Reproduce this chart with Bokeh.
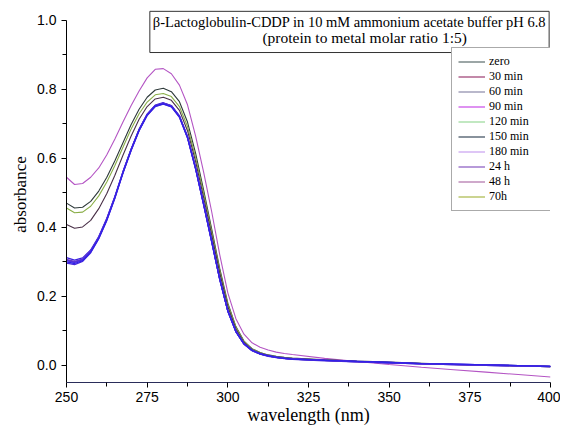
from bokeh.plotting import figure
from bokeh.models import Label, Legend, LegendItem, FixedTicker, NumeralTickFormatter
from bokeh.embed import file_html
from bokeh.resources import INLINE

wavelength = [250, 252.5, 255, 257.5, 260, 262.5, 265, 267.5, 270, 272.5, 275, 277.5, 280,
              282.5, 285, 287.5, 290, 292.5, 295, 297.5, 300, 302.5, 305, 307.5, 310, 312.5,
              315, 317.5, 320, 330, 340, 350, 360, 370, 380, 390, 400]

zero = [0.470, 0.456, 0.458, 0.475, 0.505, 0.545, 0.593, 0.645, 0.697, 0.742, 0.777, 0.798, 0.803,
        0.793, 0.764, 0.705, 0.615, 0.508, 0.395, 0.280, 0.180, 0.112, 0.070, 0.048, 0.037, 0.030,
        0.026, 0.023, 0.021, 0.016, 0.012, 0.009, 0.006, 0.003, 0.001, -0.001, -0.003]
min30 = [0.408, 0.397, 0.401, 0.420, 0.454, 0.498, 0.551, 0.609, 0.664, 0.713, 0.750, 0.772, 0.777,
         0.768, 0.739, 0.680, 0.591, 0.487, 0.378, 0.267, 0.170, 0.105, 0.066, 0.045, 0.035, 0.028,
         0.024, 0.021, 0.019, 0.015, 0.011, 0.008, 0.005, 0.002, 0.000, -0.002, -0.004]
min60 = [0.303, 0.298, 0.306, 0.330, 0.370, 0.423, 0.487, 0.560, 0.625, 0.683, 0.727, 0.753, 0.760,
         0.752, 0.722, 0.662, 0.572, 0.468, 0.360, 0.250, 0.158, 0.098, 0.062, 0.043, 0.033, 0.027,
         0.023, 0.020, 0.018, 0.014, 0.011, 0.008, 0.005, 0.003, 0.001, -0.001, -0.003]
min90 = [0.545, 0.524, 0.527, 0.545, 0.572, 0.610, 0.656, 0.705, 0.752, 0.795, 0.833, 0.858, 0.860,
         0.845, 0.812, 0.755, 0.665, 0.560, 0.445, 0.320, 0.210, 0.135, 0.090, 0.065, 0.052, 0.044,
         0.038, 0.034, 0.031, 0.020, 0.011, 0.002, -0.006, -0.013, -0.020, -0.027, -0.034]
min120 = [0.312, 0.305, 0.311, 0.334, 0.373, 0.426, 0.489, 0.561, 0.626, 0.684, 0.728, 0.754, 0.761,
          0.753, 0.723, 0.663, 0.573, 0.469, 0.361, 0.251, 0.159, 0.099, 0.063, 0.044, 0.034, 0.028,
          0.024, 0.021, 0.019, 0.015, 0.011, 0.008, 0.005, 0.003, 0.001, -0.001, -0.003]
min150 = [0.296, 0.292, 0.301, 0.326, 0.367, 0.420, 0.484, 0.557, 0.622, 0.680, 0.724, 0.750, 0.757,
          0.749, 0.719, 0.659, 0.569, 0.465, 0.357, 0.248, 0.156, 0.097, 0.061, 0.042, 0.032, 0.026,
          0.022, 0.019, 0.017, 0.013, 0.010, 0.007, 0.004, 0.002, 0.000, -0.002, -0.004]
min180 = [0.307, 0.301, 0.308, 0.332, 0.371, 0.424, 0.488, 0.559, 0.624, 0.682, 0.726, 0.752, 0.759,
          0.751, 0.721, 0.661, 0.571, 0.467, 0.359, 0.249, 0.157, 0.098, 0.062, 0.043, 0.033, 0.027,
          0.023, 0.020, 0.018, 0.014, 0.010, 0.007, 0.004, 0.002, 0.000, -0.002, -0.004]
h24 = [0.300, 0.295, 0.303, 0.328, 0.368, 0.421, 0.486, 0.558, 0.623, 0.681, 0.725, 0.751, 0.758,
       0.750, 0.720, 0.660, 0.570, 0.466, 0.358, 0.249, 0.157, 0.097, 0.062, 0.043, 0.033, 0.027,
       0.023, 0.020, 0.018, 0.014, 0.011, 0.008, 0.005, 0.003, 0.001, -0.001, -0.003]
h48 = [0.305, 0.299, 0.307, 0.331, 0.371, 0.424, 0.488, 0.560, 0.625, 0.683, 0.727, 0.753, 0.760,
       0.752, 0.722, 0.662, 0.572, 0.468, 0.360, 0.250, 0.158, 0.098, 0.062, 0.043, 0.033, 0.027,
       0.023, 0.020, 0.018, 0.014, 0.010, 0.007, 0.004, 0.002, 0.000, -0.002, -0.004]
h70 = [0.456, 0.442, 0.444, 0.461, 0.491, 0.531, 0.579, 0.632, 0.684, 0.729, 0.763, 0.784, 0.788,
       0.779, 0.750, 0.692, 0.603, 0.498, 0.387, 0.274, 0.176, 0.110, 0.069, 0.047, 0.036, 0.029,
       0.025, 0.022, 0.020, 0.015, 0.011, 0.008, 0.005, 0.002, 0.000, -0.002, -0.004]

labels = ["zero", "30 min", "60 min", "90 min", "120 min", "150 min", "180 min", "24 h", "48 h", "70h"]
series = [zero, min30, min60, min90, min120, min150, min180, h24, h48, h70]
curve_colors = ["#2e3a3a", "#4a3048", "#5a3ad0", "#b455c4", "#3a20e0", "#4a2ad8",
                "#6a40c8", "#3020e8", "#5530d8", "#8aae48"]
curve_widths = [1.1, 1.1, 1.3, 1.1, 1.3, 1.3, 1.3, 1.3, 1.3, 1.1]
legend_colors = ["#5a6a6a", "#9a3a70", "#8a88a8", "#c848e8", "#98d898", "#3a4a5a",
                 "#c8a0f0", "#8858c0", "#b070a8", "#a8b848"]

title_line1 = "β-Lactoglobulin-CDDP in 10 mM ammonium acetate buffer pH 6.8"
title_line2 = "(protein to metal molar ratio 1:5)"

x_ticks = [250, 275, 300, 325, 350, 375, 400]
x_minor = [262.5, 287.5, 312.5, 337.5, 362.5, 387.5]
y_ticks = [0.0, 0.2, 0.4, 0.6, 0.8, 1.0]
y_minor = [0.1, 0.3, 0.5, 0.7, 0.9]

p = figure(width=560, height=430, x_range=(250, 400), y_range=(-0.05, 1.04),
           output_backend="svg", toolbar_location=None,
           min_border_left=66, min_border_right=10, min_border_top=6, min_border_bottom=48)
p.outline_line_color = None
p.xgrid.visible = False
p.ygrid.visible = False
p.background_fill_color = "white"

serif = "Liberation Serif"
sans = "Liberation Sans"

order = [3, 0, 9, 1, 2, 4, 5, 6, 8, 7]
for i in order:
    p.line(wavelength, series[i], line_color=curve_colors[i], line_width=curve_widths[i])

nan = float("nan")
items = []
for lab, col in zip(labels, legend_colors):
    r = p.line(x=[nan], y=[nan], line_color=col, line_width=1.2)
    items.append(LegendItem(label=lab, renderers=[r]))
legend = Legend(items=items, location=(385, 171), margin=0, padding=6,
                spacing=0, label_height=15, glyph_height=15, glyph_width=27,
                label_standoff=4, label_width=56, label_text_font=serif,
                label_text_font_size="12px", label_text_color="black",
                label_text_line_height=1.0,
                border_line_color="#555555", border_line_width=1,
                background_fill_alpha=1.0)
p.add_layout(legend)

p.xaxis.ticker = FixedTicker(ticks=x_ticks, minor_ticks=x_minor)
p.yaxis.ticker = FixedTicker(ticks=y_ticks, minor_ticks=y_minor)
p.yaxis.formatter = NumeralTickFormatter(format="0.0")
p.yaxis.bounds = (-0.05, 1.0)
for ax in (p.xaxis, p.yaxis):
    ax.major_tick_out = 5
    ax.major_tick_in = 0
    ax.minor_tick_out = 4
    ax.minor_tick_in = 0
    ax.axis_line_color = "black"
    ax.major_tick_line_color = "black"
    ax.minor_tick_line_color = "black"
    ax.major_label_text_font = sans
    ax.major_label_text_font_size = "14px"
    ax.major_label_text_color = "black"
    ax.axis_label_text_font = serif
    ax.axis_label_text_font_style = "normal"
    ax.axis_label_text_color = "black"
p.xaxis.axis_line_color = "#2a2d5a"
p.xaxis.axis_label = "wavelength (nm)"
p.yaxis.axis_label = "absorbance"
p.xaxis.axis_label_text_font_size = "18px"
p.yaxis.axis_label_text_font_size = "17px"
p.xaxis.major_label_standoff = 4
p.xaxis.axis_label_standoff = 0
p.yaxis.major_label_standoff = 5
p.yaxis.axis_label_standoff = 4

# boxed title: box sized by line 1 plus an empty second line, line 2 drawn separately
title_box = Label(x=337.7, y=1.026, text=title_line1 + "\n ",
                  text_align="center", text_baseline="top", text_font=serif,
                  text_font_size="14.5px", text_color="black",
                  border_line_color="#333333", border_line_width=1,
                  background_fill_color="white", padding=3)
p.add_layout(title_box)
title_sub = Label(x=342.4, y=0.976, text=title_line2,
                  text_align="center", text_baseline="top", text_font=serif,
                  text_font_size="15.5px", text_color="black")
p.add_layout(title_sub)

open("out.html", "w").write(file_html(p, INLINE))
